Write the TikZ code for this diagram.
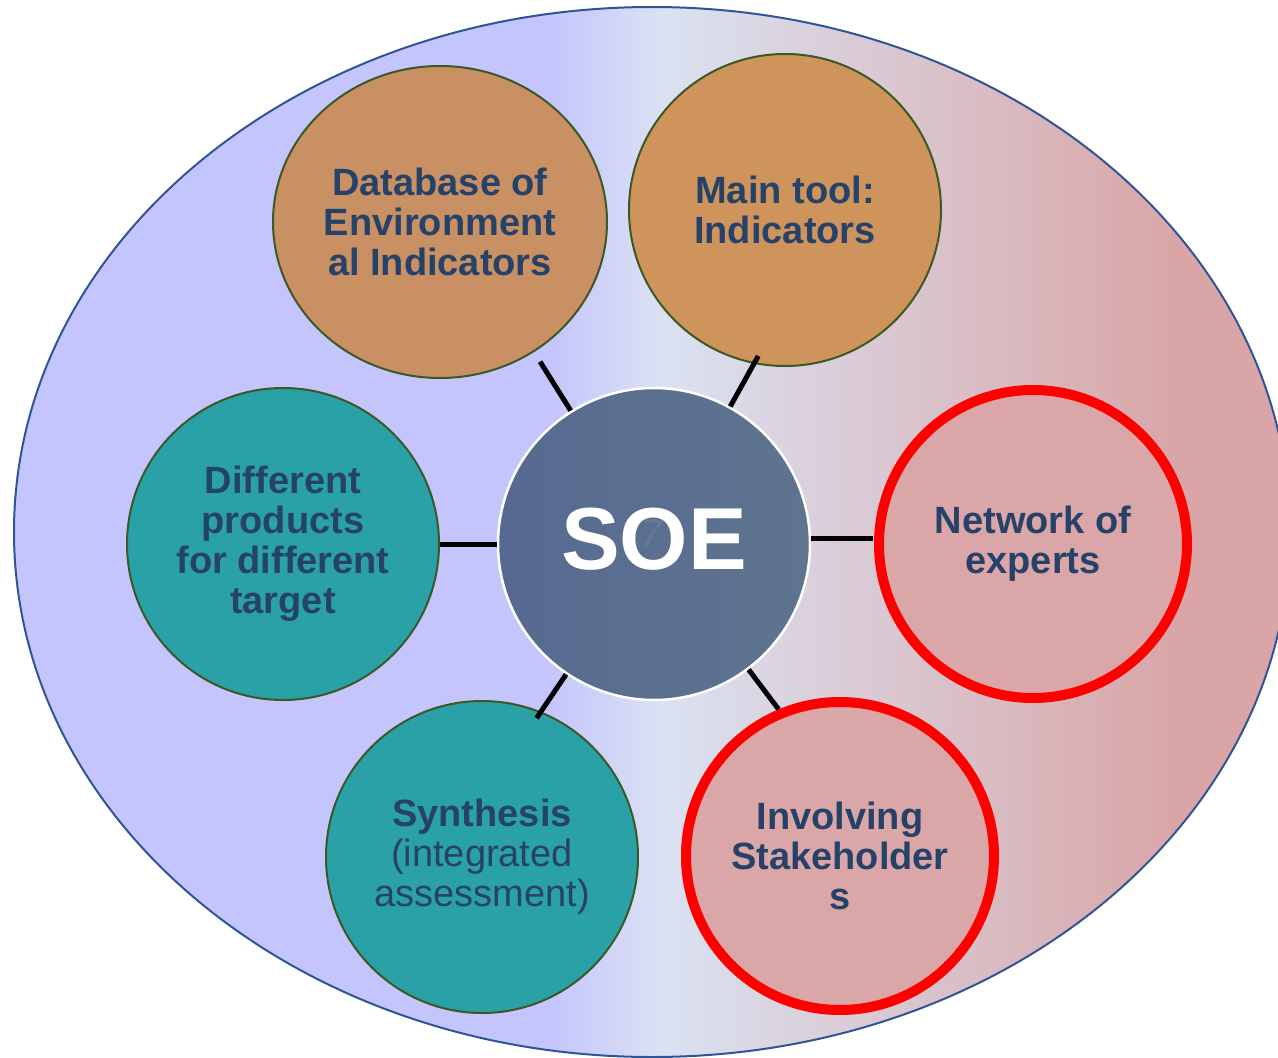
\documentclass[tikz,border=0pt]{standalone}
\usepackage{fontspec}
\setmainfont{Liberation Sans}
\usetikzlibrary{shapes.geometric,calc}
\definecolor{lav}{RGB}{197,197,253}
\definecolor{lightbg}{RGB}{218,226,242}
\definecolor{pinkbg}{RGB}{217,165,166}
\definecolor{frameblue}{RGB}{47,85,151}
\definecolor{tan1}{RGB}{201,144,99}
\definecolor{tan2}{RGB}{207,148,92}
\definecolor{teal1}{RGB}{42,161,166}
\definecolor{pinkc}{RGB}{218,166,167}
\definecolor{soeL}{RGB}{86,106,145}
\definecolor{soeR}{RGB}{95,116,143}
\definecolor{olive}{RGB}{60,88,36}
\definecolor{txt}{RGB}{38,66,104}
\tikzset{
  bubble/.style={circle,inner sep=0pt,minimum size=312pt,draw=olive,line width=2pt,
    text=txt,align=center,font=\fontsize{38}{40}\selectfont\bfseries},
  redbubble/.style={bubble,fill=pinkc,draw=red,line width=10pt,minimum size=308pt},
  link/.style={line width=5pt,draw=black}
}
\begin{document}
\begin{tikzpicture}[x=1pt,y=-1pt]
\useasboundingbox (0,0) rectangle (1278,1058);
% background ellipse with gradient
\begin{scope}
  \clip (652,532) ellipse [x radius=638, y radius=525];
  \fill[lav] (-10,-10) rectangle (552,1070);
  \shade[left color=lav,right color=lightbg] (550,-10) rectangle (662,1070);
  \shade[left color=lightbg,right color=pinkbg] (660,-10) rectangle (1182,1070);
  \fill[pinkbg] (1180,-10) rectangle (1300,1070);
\end{scope}
\draw[frameblue,line width=2pt] (652,532) ellipse [x radius=638, y radius=525];

% circles
\node[bubble,ellipse,minimum width=334pt,minimum height=312pt,fill=tan1] (db) at (440,222)
  {Database of\\Environment\\al Indicators};
\node[bubble,fill=tan2] (main) at (785,210) {Main tool:\\Indicators};
\node[bubble,fill=teal1] (diff) at (283,544) {Different\\products\\for different\\target};
\node[bubble,fill=teal1] (syn) at (482,857)
  {Synthesis\\\mdseries(integrated\\\mdseries assessment)};
\node[redbubble] (net) at (1033,544) {Network of\\experts};
\node[redbubble] (inv) at (840,856) {Involving\\Stakeholder\\s};
\node[circle,inner sep=0pt,minimum size=312pt,draw=white,line width=2.5pt,
  left color=soeL,right color=soeR] (soe) at (654,544) {};
\node[text=white,opacity=0.08,font=\fontsize{40}{40}\selectfont\itshape] (num) at (652,534) {7};
\node[text=white,font=\fontsize{88}{88}\selectfont\bfseries] (soet) at (654,539) {SOE};

% connectors
\draw[link] (soe.61) -- ($(soe.center)+(61:215pt)$);
\draw[link] (soe.122) -- ($(soe.center)+(122:215pt)$);
\draw[link] (soe.180) -- ($(soe.center)+(180:214pt)$);
\draw[link] (soe.236) -- ($(soe.center)+(236:210pt)$);
\draw[link] (soe.307) -- ($(soe.center)+(307:207pt)$);
\draw[link] (soe.2) -- ($(soe.2)+(62pt,0pt)$);
\end{tikzpicture}
\end{document}
